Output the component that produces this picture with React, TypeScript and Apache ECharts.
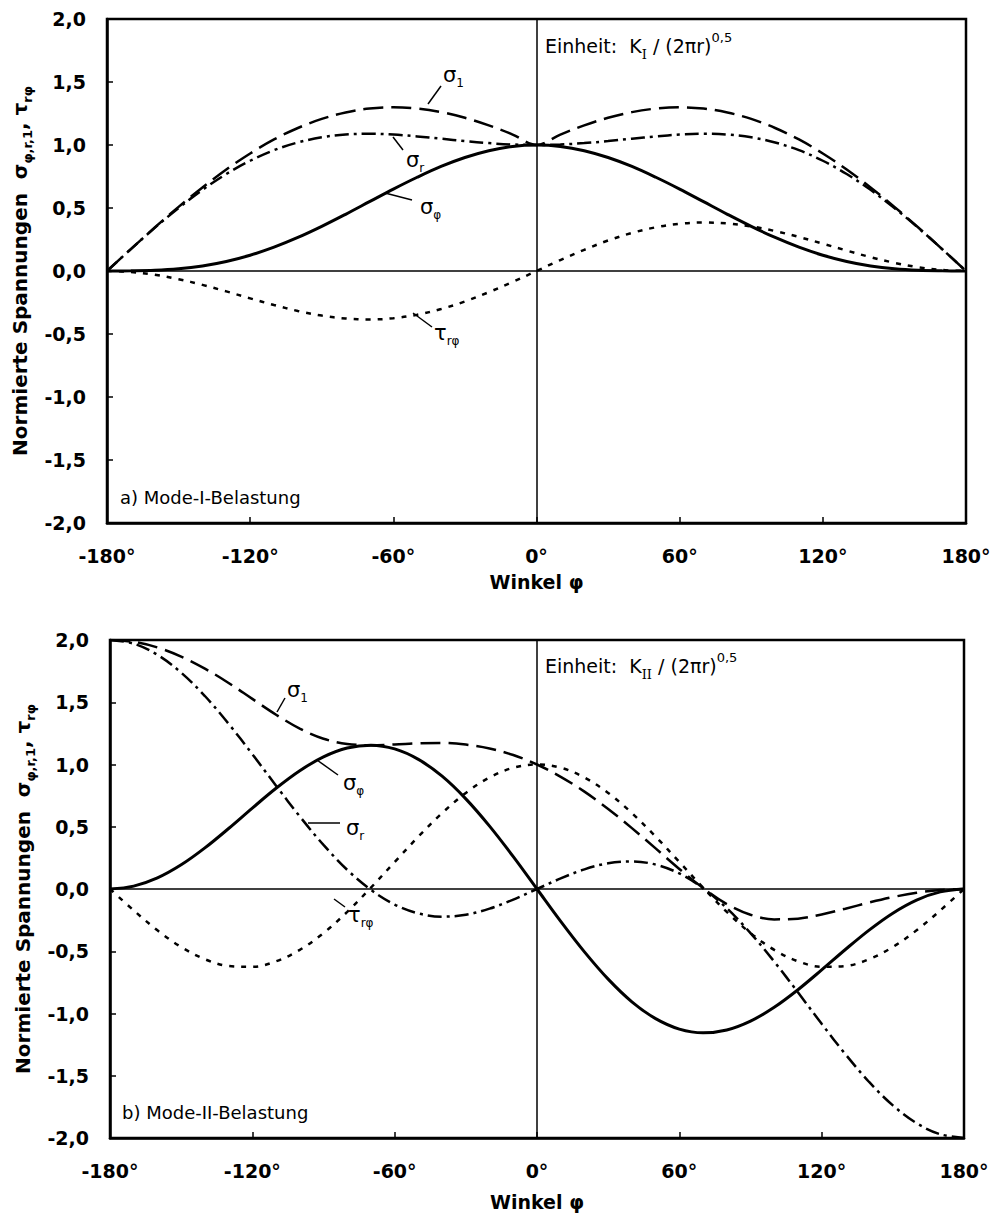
import React, { useEffect, useRef } from 'react';
import * as echarts from 'echarts';

// Winkel φ in Grad
const ANGLES = [
  -180, -170, -160, -150, -140, -130, -120, -110, -100, -90, -80, -70, -60, -50, -40, -30, -20, -10,
  0, 10, 20, 30, 40, 50, 60, 70, 80, 90, 100, 110, 120, 130, 140, 150, 160, 170, 180,
];

// a) Mode-I-Belastung
const M1_SIGMA_PHI = [
  0, 0.001, 0.005, 0.017, 0.04, 0.076, 0.125, 0.189, 0.266, 0.354, 0.45, 0.55, 0.65, 0.744, 0.83, 0.901, 0.955, 0.989,
  1.0, 0.989, 0.955, 0.901, 0.83, 0.744, 0.65, 0.55, 0.45, 0.354, 0.266, 0.189, 0.125, 0.076, 0.04, 0.017, 0.005, 0.001, 0,
];
const M1_SIGMA_R = [
  0, 0.174, 0.342, 0.5, 0.644, 0.77, 0.875, 0.959, 1.02, 1.061, 1.083, 1.089, 1.083, 1.068, 1.05, 1.031, 1.015, 1.004,
  1.0, 1.004, 1.015, 1.031, 1.05, 1.068, 1.083, 1.089, 1.083, 1.061, 1.02, 0.959, 0.875, 0.77, 0.644, 0.5, 0.342, 0.174, 0,
];
const M1_SIGMA_1 = [
  0, 0.174, 0.345, 0.509, 0.663, 0.806, 0.933, 1.044, 1.135, 1.207, 1.258, 1.289, 1.299, 1.289, 1.261, 1.216, 1.156, 1.083,
  1.0, 1.083, 1.156, 1.216, 1.261, 1.289, 1.299, 1.289, 1.258, 1.207, 1.135, 1.044, 0.933, 0.806, 0.663, 0.509, 0.345, 0.174, 0,
];
const M1_TAU = [
  0, -0.008, -0.03, -0.065, -0.11, -0.162, -0.217, -0.27, -0.317, -0.354, -0.377, -0.385, -0.375, -0.347, -0.302, -0.242, -0.168, -0.087,
  0, 0.087, 0.168, 0.242, 0.302, 0.347, 0.375, 0.385, 0.377, 0.354, 0.317, 0.27, 0.217, 0.162, 0.11, 0.065, 0.03, 0.008, 0,
];

// b) Mode-II-Belastung
const M2_SIGMA_PHI = [
  0, 0.023, 0.089, 0.194, 0.33, 0.486, 0.65, 0.809, 0.95, 1.061, 1.132, 1.155, 1.125, 1.041, 0.906, 0.724, 0.505, 0.26,
  0, -0.26, -0.505, -0.724, -0.906, -1.041, -1.125, -1.155, -1.132, -1.061, -0.95, -0.809, -0.65, -0.486, -0.33, -0.194, -0.089, -0.023, 0,
];
const M2_SIGMA_R = [
  2.0, 1.97, 1.881, 1.738, 1.55, 1.327, 1.083, 0.83, 0.583, 0.354, 0.154, -0.007, -0.125, -0.196, -0.222, -0.207, -0.158, -0.085,
  0, 0.085, 0.158, 0.207, 0.222, 0.196, 0.125, 0.007, -0.154, -0.354, -0.583, -0.83, -1.083, -1.327, -1.55, -1.738, -1.881, -1.97, -2.0,
];
const M2_SIGMA_1 = [
  2.0, 1.985, 1.94, 1.867, 1.77, 1.655, 1.527, 1.4, 1.288, 1.207, 1.165, 1.155, 1.161, 1.171, 1.173, 1.16, 1.129, 1.076,
  1.0, 0.901, 0.782, 0.643, 0.489, 0.326, 0.161, 0.008, -0.121, -0.207, -0.244, -0.238, -0.205, -0.158, -0.109, -0.065, -0.03, -0.008, 0,
];
const M2_TAU = [
  0, -0.172, -0.332, -0.466, -0.564, -0.619, -0.625, -0.581, -0.489, -0.354, -0.184, 0.011, 0.217, 0.421, 0.61, 0.772, 0.896, 0.974,
  1.0, 0.974, 0.896, 0.772, 0.61, 0.421, 0.217, 0.011, -0.184, -0.354, -0.489, -0.581, -0.625, -0.619, -0.564, -0.466, -0.332, -0.172, 0,
];

const FONT = '"DejaVu Sans", "Liberation Sans", sans-serif';

const pairs = (arr: number[]) => ANGLES.map((a, i) => [a, arr[i]]);

const STYLE_SIGMA_PHI = { color: '#000', width: 3, type: 'solid' as any };
const STYLE_SIGMA_1 = { color: '#000', width: 2.5, type: [20, 8] as any };
const STYLE_SIGMA_R = { color: '#000', width: 2.5, type: [14, 5, 3, 5] as any };
const STYLE_TAU = { color: '#000', width: 2.5, type: [5, 7] as any };

function makeAxes(gridIndex: number, nameGapX: number) {
  const xAxis = {
    type: 'value',
    gridIndex,
    min: -180,
    max: 180,
    interval: 60,
    axisLine: { show: true, onZero: false, lineStyle: { color: '#000', width: 2.5 } },
    axisTick: { show: true, inside: true, length: 6, lineStyle: { color: '#000', width: 1.5 } },
    axisLabel: {
      formatter: (v: number) => `${v}°`,
      color: '#000',
      fontSize: 19,
      fontWeight: 'bold',
      fontFamily: FONT,
      margin: 23,
    },
    splitLine: { show: false },
    name: 'Winkel φ',
    nameLocation: 'middle',
    nameGap: nameGapX,
    nameTextStyle: { color: '#000', fontSize: 19, fontWeight: 'bold', fontFamily: FONT },
  };
  const yAxis = {
    type: 'value',
    gridIndex,
    min: -2,
    max: 2,
    interval: 0.5,
    axisLine: { show: true, onZero: false, lineStyle: { color: '#000', width: 2.5 } },
    axisTick: { show: true, inside: true, length: 6, lineStyle: { color: '#000', width: 1.5 } },
    axisLabel: {
      formatter: (v: number) => v.toFixed(1).replace('.', ','),
      color: '#000',
      fontSize: 19,
      fontWeight: 'bold',
      fontFamily: FONT,
      margin: 21,
    },
    splitLine: { show: false },
    name: '{b|Normierte Spannungen  σ}{s|φ,r,1}{b|, τ}{s|rφ}',
    nameLocation: 'middle',
    nameGap: 70,
    nameRotate: 90,
    nameTextStyle: {
      color: '#000',
      fontFamily: FONT,
      rich: {
        b: { fontSize: 20, fontWeight: 'bold', fontFamily: FONT, color: '#000', lineHeight: 28 },
        s: { fontSize: 13, fontWeight: 'bold', fontFamily: FONT, color: '#000', verticalAlign: 'bottom', lineHeight: 16 },
      },
    },
  };
  return { xAxis, yAxis };
}

function makeSeries(idx: number, sPhi: number[], sR: number[], s1: number[], tau: number[]) {
  const common = {
    type: 'line',
    xAxisIndex: idx,
    yAxisIndex: idx,
    showSymbol: false,
    symbol: 'none',
    smooth: 0.35,
    silent: true,
  };
  return [
    {
      ...common,
      name: 'σφ' + idx,
      data: pairs(sPhi),
      lineStyle: STYLE_SIGMA_PHI,
      z: 5,
      markLine: {
        silent: true,
        symbol: ['none', 'none'],
        label: { show: false },
        lineStyle: { color: '#000', width: 1.5, type: 'solid' },
        data: [{ xAxis: 0 }, { yAxis: 0 }],
      },
    },
    { ...common, name: 'σ1' + idx, data: pairs(s1), lineStyle: STYLE_SIGMA_1 },
    { ...common, name: 'σr' + idx, data: pairs(sR), lineStyle: STYLE_SIGMA_R },
    { ...common, name: 'τ' + idx, data: pairs(tau), lineStyle: STYLE_TAU },
  ];
}

const SUBRICH = {
  g: { fontSize: 21, fontFamily: FONT, color: '#000', lineHeight: 28 },
  s: { fontSize: 12, fontFamily: FONT, color: '#000', verticalAlign: 'bottom', lineHeight: 14 },
};

function label(x: number, y: number, text: string) {
  return {
    type: 'text',
    x,
    y,
    z: 100,
    style: { text, rich: SUBRICH, fill: '#000', verticalAlign: 'middle', align: 'left', fontFamily: FONT },
  };
}
function leader(x1: number, y1: number, x2: number, y2: number) {
  return {
    type: 'line',
    z: 100,
    shape: { x1, y1, x2, y2 },
    style: { stroke: '#000', lineWidth: 1.5 },
  };
}
function textAt(x: number, y: number, text: string, rich?: any) {
  return {
    type: 'text',
    x,
    y,
    z: 100,
    style: {
      text,
      rich,
      fill: '#000',
      fontSize: 18,
      fontFamily: FONT,
      verticalAlign: 'middle',
      align: 'left',
    },
  };
}

const UNIT_RICH = {
  n: { fontSize: 19, fontFamily: FONT, color: '#000', lineHeight: 30 },
  s: { fontSize: 13, fontFamily: '"DejaVu Serif", serif', color: '#000', verticalAlign: 'bottom', lineHeight: 15 },
  p: { fontSize: 13, fontFamily: FONT, color: '#000', verticalAlign: 'top', lineHeight: 15 },
};

export default function App() {
  const ref = useRef<HTMLDivElement>(null);
  useEffect(() => {
    if (!ref.current) return;
    const chart = echarts.init(ref.current, null, { renderer: 'svg' });
    const a0 = makeAxes(0, 49);
    const a1 = makeAxes(1, 54);
    chart.setOption({
      animation: false,
      backgroundColor: '#fff',
      grid: [
        { left: 107, top: 19, width: 859, height: 504, show: true, borderColor: '#000', borderWidth: 2.5, backgroundColor: 'transparent' },
        { left: 110, top: 640, width: 854, height: 498, show: true, borderColor: '#000', borderWidth: 2.5, backgroundColor: 'transparent' },
      ],
      xAxis: [a0.xAxis, a1.xAxis],
      yAxis: [a0.yAxis, a1.yAxis],
      series: [
        ...makeSeries(0, M1_SIGMA_PHI, M1_SIGMA_R, M1_SIGMA_1, M1_TAU),
        ...makeSeries(1, M2_SIGMA_PHI, M2_SIGMA_R, M2_SIGMA_1, M2_TAU),
      ],
      graphic: [
        // panel a
        textAt(545, 46, '{n|Einheit:  K}{s|I}{n| / (2πr)}{p|0,5}', UNIT_RICH),
        textAt(120, 497, 'a) Mode-I-Belastung'),
        leader(428, 104, 441, 86),
        label(443, 75, '{g|σ}{s|1}'),
        leader(393, 137, 403, 150),
        label(406, 160, '{g|σ}{s|r}'),
        leader(385, 193, 412, 200),
        label(420, 207, '{g|σ}{s|φ}'),
        leader(413, 313, 432, 327),
        label(434, 333, '{g|τ}{s|rφ}'),
        // panel b
        textAt(545, 666, '{n|Einheit:  K}{s|II}{n| / (2πr)}{p|0,5}', UNIT_RICH),
        textAt(122, 1112, 'b) Mode-II-Belastung'),
        leader(277, 712, 285, 698),
        label(287, 690, '{g|σ}{s|1}'),
        leader(317, 760, 338, 775),
        label(343, 783, '{g|σ}{s|φ}'),
        leader(308, 823, 340, 823),
        label(346, 828, '{g|σ}{s|r}'),
        leader(334, 899, 345, 907),
        label(348, 915, '{g|τ}{s|rφ}'),
      ],
    });
    return () => chart.dispose();
  }, []);
  return (
    <div
      ref={ref}
      style={{ position: 'absolute', left: 0, top: 0, width: 994, height: 1220, background: '#fff' }}
    />
  );
}
